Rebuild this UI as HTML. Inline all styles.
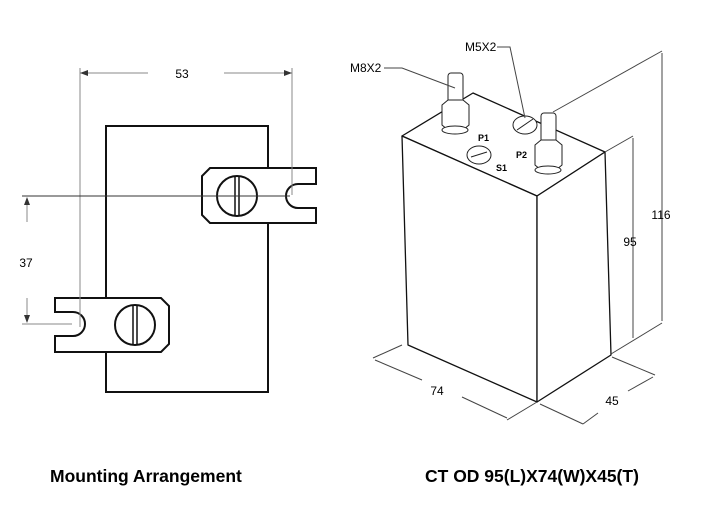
<!DOCTYPE html><html><head><style>body{margin:0;background:#fff}svg{display:block}</style></head><body>
<svg width="710" height="532" viewBox="0 0 710 532" xmlns="http://www.w3.org/2000/svg" font-family="Liberation Sans, sans-serif">
<g stroke="#111" stroke-width="2" fill="#fff">
<rect x="106" y="126" width="162" height="266"/>
<path d="M210,168 H316 V184 H298 A12,12 0 0 0 298,208 H316 V223 H210 L202,215 V176 Z"/>
<path d="M55,298 H161 L169,306 V344 L161,352 H55 V336 H73 A12,12 0 0 0 73,312 H55 Z"/>
<circle cx="237" cy="196" r="20"/><circle cx="135" cy="325" r="20"/>
</g>
<g stroke="#111" stroke-width="1.5"><line x1="235" y1="177" x2="235" y2="215"/><line x1="239" y1="177" x2="239" y2="215"/><line x1="133" y1="306" x2="133" y2="344"/><line x1="137" y1="306" x2="137" y2="344"/></g>
<g stroke="#888" stroke-width="1" fill="none">
<line x1="80" y1="68" x2="80" y2="327"/><line x1="292" y1="68" x2="292" y2="195"/>
<line x1="80" y1="73" x2="148" y2="73"/><line x1="224" y1="73" x2="292" y2="73"/>
<line x1="22" y1="196" x2="290" y2="196" stroke="#333"/>
<line x1="22" y1="324" x2="72" y2="324"/>
<line x1="27" y1="198" x2="27" y2="222"/><line x1="27" y1="298" x2="27" y2="322"/>
</g>
<g fill="#333"><polygon points="80,73 88,70 88,76"/><polygon points="292,73 284,70 284,76"/><polygon points="27,197 24,205 30,205"/><polygon points="27,323 24,315 30,315"/></g>
<text x="182" y="78" font-size="12" text-anchor="middle">53</text>
<text x="26" y="267" font-size="12" text-anchor="middle">37</text>

<g stroke="#111" stroke-width="1.3" fill="#fff" stroke-linejoin="round">
<polygon points="402,136 473,93 605,152 537,196"/>
<polygon points="402,136 537,196 537,402 408,345"/>
<polygon points="537,196 605,152 611,355 537,402"/>
</g>
<g stroke="#222" stroke-width="1" fill="#fff">
<rect x="448" y="73" width="15" height="30" rx="3"/><path d="M442,105 L448,100 H463 L469,105 V125 L463,130 H448 L442,125 Z"/><ellipse cx="455" cy="130" rx="13" ry="4"/>
<rect x="541" y="113" width="15" height="30" rx="3"/><path d="M535,145 L541,140 H556 L562,145 V165 L556,170 H541 L535,165 Z"/><ellipse cx="548" cy="170" rx="13" ry="4"/>
<ellipse cx="525" cy="125" rx="12" ry="9"/><line x1="517" y1="130" x2="533" y2="119"/>
<ellipse cx="479" cy="155" rx="12" ry="9"/><line x1="471" y1="157" x2="487" y2="152"/>
</g>
<text x="478" y="141" font-size="9" font-weight="bold">P1</text>
<text x="516" y="158" font-size="9" font-weight="bold">P2</text>
<text x="496" y="171" font-size="9" font-weight="bold">S1</text>
<g stroke="#444" stroke-width="1" fill="none">
<polyline points="384,68 402,68 455,88"/><polyline points="497,47 510,47 525,118"/>
<line x1="553" y1="112" x2="662" y2="51"/><line x1="611" y1="354" x2="662" y2="323"/>
<line x1="605" y1="152" x2="633" y2="136"/>
<line x1="662" y1="53" x2="662" y2="321"/><line x1="633" y1="138" x2="633" y2="338"/>
<line x1="402" y1="345" x2="373" y2="358"/><line x1="537" y1="402" x2="507" y2="420"/>
<line x1="375" y1="360" x2="422" y2="380"/><line x1="462" y1="397" x2="507" y2="418"/>
<line x1="612" y1="357" x2="655" y2="375"/><line x1="540" y1="404" x2="583" y2="424"/>
<line x1="583" y1="424" x2="598" y2="413"/><line x1="628" y1="391" x2="653" y2="377"/>
</g>
<text x="350" y="72" font-size="12">M8X2</text>
<text x="465" y="51" font-size="12">M5X2</text>
<text x="661" y="219" font-size="12" text-anchor="middle">116</text>
<text x="630" y="246" font-size="12" text-anchor="middle">95</text>
<text x="437" y="395" font-size="12" text-anchor="middle">74</text>
<text x="612" y="405" font-size="12" text-anchor="middle">45</text>
<text x="50" y="482" font-size="17.5" font-weight="bold">Mounting Arrangement</text>
<text x="425" y="482" font-size="17.5" font-weight="bold">CT OD 95(L)X74(W)X45(T)</text>
</svg></body></html>
